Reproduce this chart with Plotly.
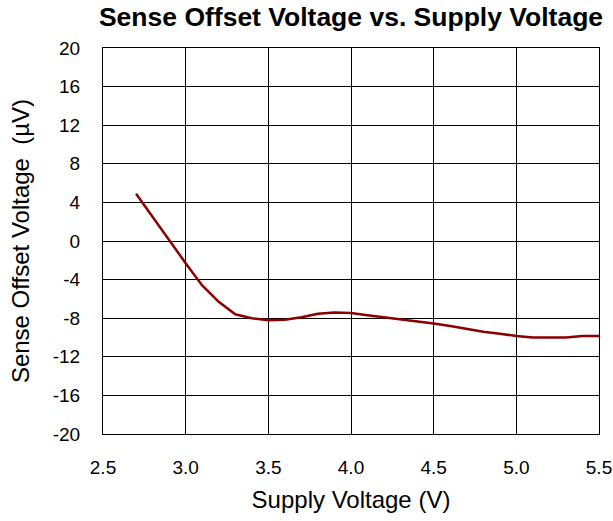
import plotly.graph_objects as go

supply_v = [2.7, 2.8, 2.9, 3.0, 3.1, 3.2, 3.3, 3.4, 3.5, 3.6, 3.7, 3.8, 3.9, 4.0,
            4.1, 4.2, 4.3, 4.4, 4.5, 4.6, 4.7, 4.8, 4.9, 5.0, 5.1, 5.2, 5.3, 5.4, 5.5]
offset_uv = [4.9, 2.5, 0.0, -2.3, -4.6, -6.3, -7.6, -8.0, -8.2, -8.15, -7.9, -7.55, -7.4, -7.45,
             -7.7, -7.9, -8.15, -8.35, -8.55, -8.8, -9.1, -9.4, -9.6, -9.85, -10.0, -10.0, -10.0, -9.85, -9.85]

x_ticks = [2.5, 3.0, 3.5, 4.0, 4.5, 5.0, 5.5]
x_tick_labels = ["2.5", "3.0", "3.5", "4.0", "4.5", "5.0", "5.5"]
y_ticks = [-20, -16, -12, -8, -4, 0, 4, 8, 12, 16, 20]
y_tick_labels = ["-20", "-16", "-12", "-8", "-4", "0", "4", "8", "12", "16", "20"]

fig = go.Figure()
fig.add_trace(go.Scatter(x=supply_v, y=offset_uv, mode="lines",
                         line=dict(color="#8B0000", width=2.5), hoverinfo="skip"))

font = "Liberation Sans, Arial, sans-serif"
W, H = 613, 521
fig.update_layout(
    width=W, height=H,
    margin=dict(l=103, r=14, t=48, b=87),
    paper_bgcolor="white", plot_bgcolor="white",
    showlegend=False,
    font=dict(family=font, color="black", size=19),
    title=dict(text="<b>Sense Offset Voltage vs. Supply Voltage</b>",
               xref="paper", x=0.5, xanchor="center",
               yref="container", y=1 - 17 / H, yanchor="middle",
               font=dict(family=font, size=26.5, color="black")),
)
fig.update_xaxes(range=[2.5, 5.5], tickvals=x_ticks, ticktext=x_tick_labels,
                 showgrid=True, gridcolor="black", gridwidth=1,
                 showline=True, linecolor="black", linewidth=1, mirror=True,
                 zeroline=False, ticks="", ticklabelstandoff=16, automargin=False,
                 title=dict(text="Supply Voltage (V)", font=dict(size=24), standoff=14),
                 tickfont=dict(size=19))
fig.update_yaxes(range=[-20, 20], tickvals=y_ticks, ticktext=y_tick_labels,
                 showgrid=True, gridcolor="black", gridwidth=1,
                 showline=True, linecolor="black", linewidth=1, mirror=True,
                 zeroline=False, ticks="", ticklabelstandoff=18, automargin=False,
                 title=dict(text="Sense Offset Voltage\u00a0\u00a0(µV)", font=dict(size=24), standoff=16),
                 tickfont=dict(size=19))

fig.write_html("out.html", config={"displayModeBar": False},
               post_script="document.body.style.margin='0';")
